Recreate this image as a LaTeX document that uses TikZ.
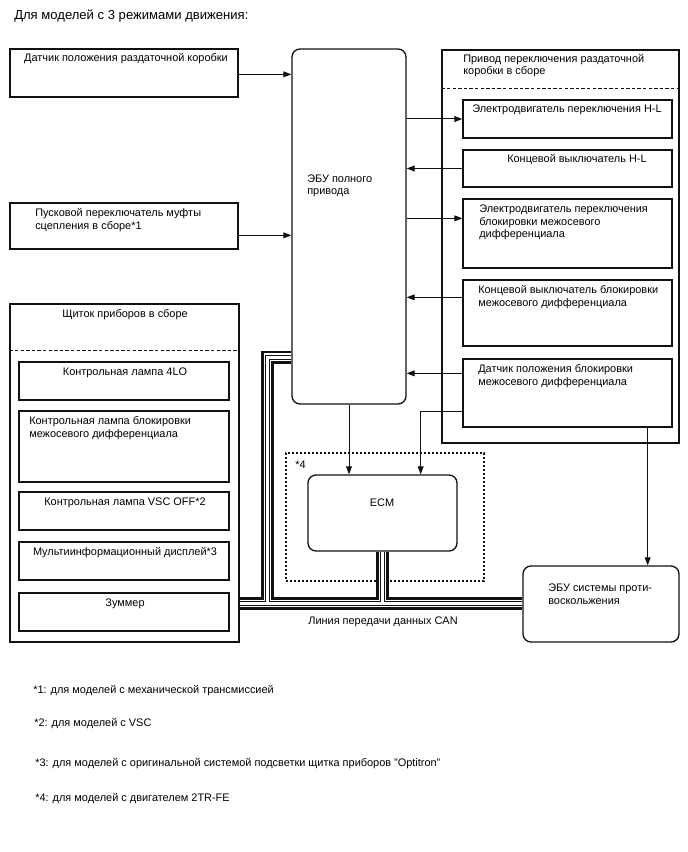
\documentclass[tikz,border=0pt]{standalone}
\usepackage{fontspec}
\setmainfont{Liberation Sans}
\usepackage{tikz}
\usetikzlibrary{arrows.meta,positioning,fit,calc}
\definecolor{ink}{HTML}{111111}
\tikzset{
  blk/.style={draw=ink, line width=1pt, inner sep=0pt, fit={#1}},
  rblk/.style={blk={#1}, rounded corners=6pt},
  dblk/.style={draw=ink, line width=0.85pt, dash pattern=on 1.6pt off 1.4pt,
    inner sep=0pt, fit={#1}},
  sep/.style={draw=ink, line width=0.6pt, dash pattern=on 2.6pt off 1.6pt},
  txt/.style={inner sep=0pt, font=\fontsize{8.2}{9.7}\selectfont, align=left,
    anchor=base west},
  ctxt/.style={txt, align=center, anchor=base},
  arr/.style={-{Triangle[length=6pt,width=4.4pt]}, line width=0.75pt, draw=ink},
}

\begin{document}
\begin{tikzpicture}[x=0.75pt, y=-0.75pt]
  \useasboundingbox (0,0) rectangle (688,852);
  \node[txt, font=\fontsize{9.8}{11}\selectfont] (ttl) at (14,20) {Для моделей с 3 режимами движения:};

  \node[blk={(10,49) (238,97)}] (trs) {};
  \node[ctxt] (trst) at (126,62) {Датчик положения раздаточной коробки};
  \node[blk={(10,203) (238,249)}] (clsw) {};
  \node[txt] (clswt) at (35,229) {Пусковой переключатель муфты\\сцепления в сборе*1};

  \node[rblk={(292,49) (406,404)}] (ecu) {};
  \node[txt] (ecut) at (307,195) {ЭБУ полного\\привода};

  \node[blk={(442,50) (679,443)}] (act) {};
  \node[txt] (actt) at (463,75) {Привод переключения раздаточной\\коробки в сборе};
  \draw[sep] ($(act.north west)+(0,39)$) -- ($(act.north east)+(0,39)$);
  \node[blk={(463,100) (672,138)}] (hlm) {};
  \node[ctxt] (hlmt) at (567,113) {Электродвигатель переключения H-L};
  \node[blk={(463,150) (672,187)}] (hls) {};
  \node[txt] (hlst) at (507,163) {Концевой выключатель H-L};
  \node[blk={(463,199) (672,268)}] (dlm) {};
  \node[txt] (dlmt) at (479,238) {Электродвигатель переключения\\блокировки межосевого\\дифференциала};
  \node[blk={(463,280) (672,346)}] (dls) {};
  \node[txt] (dlst) at (478,306) {Концевой выключатель блокировки\\межосевого дифференциала};
  \node[blk={(463,359) (672,427)}] (dlp) {};
  \node[txt] (dlpt) at (478,385) {Датчик положения блокировки\\межосевого дифференциала};

  \node[blk={(10,304) (239,642)}] (cmb) {};
  \node[ctxt] (cmbt) at (125,317) {Щиток приборов в сборе};
  \draw[sep] ($(cmb.north west)+(0,47)$) -- ($(cmb.north east)+(0,47)$);
  \node[blk={(19,362) (229,400)}] (l4lo) {};
  \node[ctxt] (l4lot) at (125,375) {Контрольная лампа 4LO};
  \node[blk={(19,411) (229,482)}] (ldl) {};
  \node[txt] (ldlt) at (29,437) {Контрольная лампа блокировки\\межосевого дифференциала};
  \node[blk={(19,492) (229,530)}] (lvsc) {};
  \node[ctxt] (lvsct) at (125,505) {Контрольная лампа VSC OFF*2};
  \node[blk={(19,542) (229,580)}] (mid) {};
  \node[ctxt] (midt) at (125,555) {Мультиинформационный дисплей*3};
  \node[blk={(19,593) (229,631)}] (buz) {};
  \node[ctxt] (buzt) at (125,606) {Зуммер};

  \node[dblk={(286,453) (484,581)}] (ecmg) {};
  \node[txt] (ecmgt) at (295,468) {*4};
  \node[rblk={(308,475) (457,551)}] (ecm) {};
  \node[ctxt] (ecmt) at (382,506) {ECM};
  \node[rblk={(523,566) (679,642)}] (abs) {};
  \node[txt] (abst) at (548,604) {ЭБУ системы проти-\\воскольжения};

  \draw[arr] ($(trs.north east)+(0,26)$) coordinate (a1) -- (a1 -| ecu.west);
  \draw[arr] ($(clsw.north east)+(0,33)$) coordinate (a2) -- (a2 -| ecu.west);
  \draw[arr] (hlm.west -| ecu.east) -- (hlm.west);
  \draw[arr] (hls.west) -- (hls.west -| ecu.east);
  \coordinate (a3) at ($(dlm.north west)+(0,20)$);
  \draw[arr] (a3 -| ecu.east) -- (a3);
  \draw[arr] ($(dls.north west)+(0,18)$) coordinate (a4) -- (a4 -| ecu.east);
  \draw[arr] ($(dlp.north west)+(0,15)$) coordinate (a5) -- (a5 -| ecu.east);
  \draw[arr] ($(dlp.north west)+(0,53)$) -| ($(ecm.north east)+(-37,0)$);
  \draw[arr] (ecu.south) -- (ecu.south |- ecm.north);
  \draw[arr] ($(dlp.south east)+(-25,0)$) coordinate (a6) -- (a6 |- abs.north);

  \coordinate (j1) at (267.5,603.5);
  \foreach \w/\c in {10pt/ink,5.8pt/white,3.6pt/ink,2.2pt/white}
    \draw[line width=\w, draw=\c]
      (cmb.east |- j1) -- (abs.west |- j1)
      ($(ecu.south west)+(0,-47.5)$) -| (j1)
      (ecm.south) -- (ecm.south |- j1);
  \node[ctxt] (can) at (383,624) {Линия передачи данных CAN};

  \node[txt] (fn1) at (33,693) {*1: для моделей с механической трансмиссией};
  \node[txt] (fn2) at (34,726) {*2: для моделей с VSC};
  \node[txt] (fn3) at (35,766) {*3: для моделей с оригинальной системой подсветки щитка приборов "Optitron"};
  \node[txt] (fn4) at (35,801) {*4: для моделей с двигателем 2TR-FE};
\end{tikzpicture}
\end{document}
